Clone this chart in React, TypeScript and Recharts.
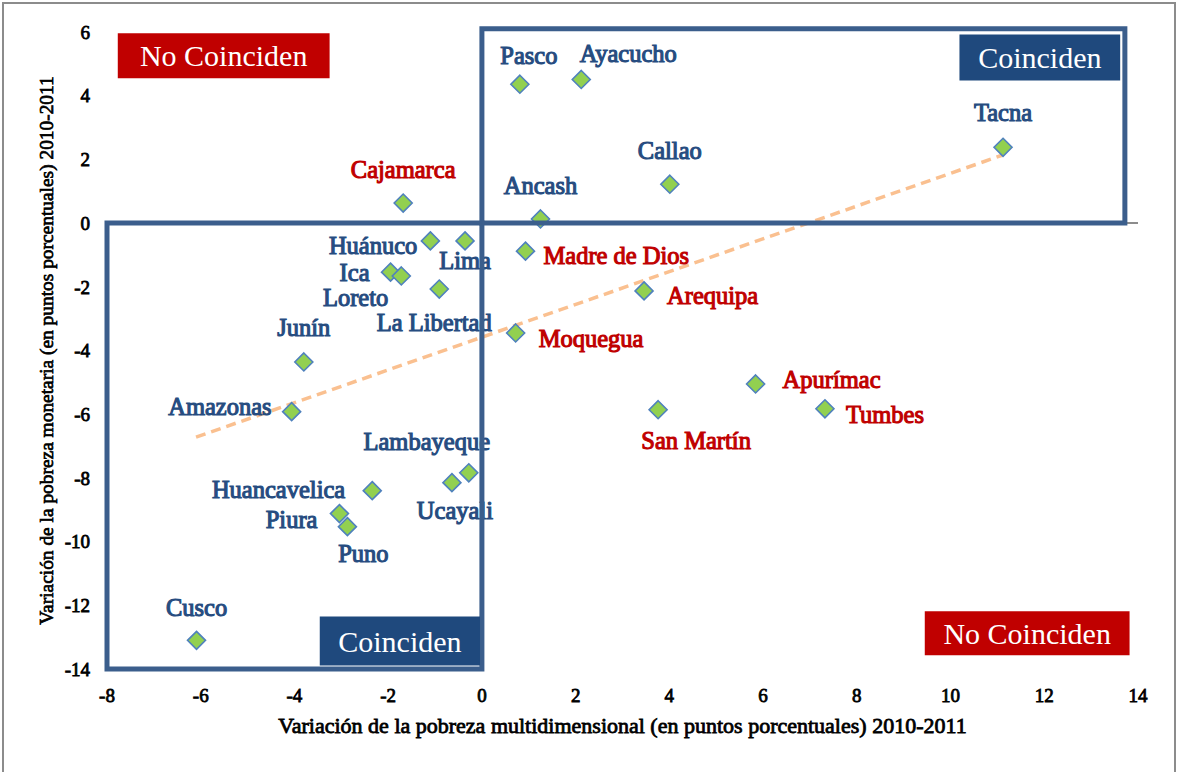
import React from 'react';
import { ScatterChart, Scatter, XAxis, YAxis, ReferenceArea, ReferenceLine } from 'recharts';

const regions = ['Pasco', 'Ayacucho', 'Tacna', 'Callao', 'Cajamarca', 'Ancash', 'Huánuco', 'Lima', 'Madre de Dios', 'Ica', 'Loreto', 'La Libertad', 'Arequipa', 'Moquegua', 'Junín', 'Apurímac', 'Tumbes', 'San Martín', 'Amazonas', 'Lambayeque', 'Ucayali', 'Huancavelica', 'Piura', 'Puno', 'Cusco'];
const multidimensional = [0.81, 2.12, 11.12, 4.01, -1.68, 1.25, -1.1, -0.36, 0.93, -1.95, -1.72, -0.91, 3.46, 0.72, -3.8, 5.84, 7.32, 3.76, -4.06, -0.28, -0.64, -2.34, -3.04, -2.87, -6.09];
const monetary = [4.36, 4.51, 2.38, 1.22, 0.63, 0.13, -0.56, -0.56, -0.88, -1.54, -1.66, -2.07, -2.13, -3.45, -4.36, -5.05, -5.83, -5.86, -5.92, -7.84, -8.15, -8.4, -9.12, -9.53, -13.1];
const notMatching = ['Cajamarca', 'Madre de Dios', 'Arequipa', 'Moquegua', 'Apurímac', 'Tumbes', 'San Martín'];
const trendX = [-6.1, 11.1];
const trendY = [-6.72, 2.13];
const xTicks = [-8, -6, -4, -2, 0, 2, 4, 6, 8, 10, 12, 14];
const yTicks = [-14, -12, -10, -8, -6, -4, -2, 0, 2, 4, 6];

const xTitle = 'Variación de la pobreza multidimensional (en puntos porcentuales) 2010-2011';
const yTitle = 'Variación de la pobreza monetaria (en puntos porcentuales) 2010-2011';

const FONT = '"Liberation Serif", serif';
const RED = '#C00000';
const BLUE = '#264C80';
const NAVY = '#1F497D';
const FRAME = '#3B5E8C';

type Place = { anchor: 'start' | 'middle' | 'end'; dx: number; dy: number };
const labelPlacement: Record<string, Place> = {
  'Pasco': { anchor: 'middle', dx: 9, dy: -29 },
  'Ayacucho': { anchor: 'middle', dx: 47, dy: -26 },
  'Tacna': { anchor: 'middle', dx: 0, dy: -35 },
  'Callao': { anchor: 'middle', dx: 0, dy: -34 },
  'Cajamarca': { anchor: 'middle', dx: 0, dy: -34 },
  'Ancash': { anchor: 'middle', dx: 0, dy: -33 },
  'Huánuco': { anchor: 'end', dx: -13, dy: 5 },
  'Lima': { anchor: 'middle', dx: 0, dy: 20 },
  'Madre de Dios': { anchor: 'start', dx: 18, dy: 4 },
  'Ica': { anchor: 'end', dx: -21, dy: 0 },
  'Loreto': { anchor: 'end', dx: -13, dy: 22 },
  'La Libertad': { anchor: 'middle', dx: -5, dy: 33 },
  'Arequipa': { anchor: 'start', dx: 23, dy: 5 },
  'Moquegua': { anchor: 'start', dx: 23, dy: 6 },
  'Junín': { anchor: 'middle', dx: 0, dy: -34 },
  'Apurímac': { anchor: 'start', dx: 27, dy: -4 },
  'Tumbes': { anchor: 'start', dx: 21, dy: 6 },
  'San Martín': { anchor: 'middle', dx: 38, dy: 31 },
  'Amazonas': { anchor: 'end', dx: -20, dy: -5 },
  'Lambayeque': { anchor: 'middle', dx: -42, dy: -31 },
  'Ucayali': { anchor: 'middle', dx: 3, dy: 28 },
  'Huancavelica': { anchor: 'end', dx: -27, dy: -1 },
  'Piura': { anchor: 'end', dx: -22, dy: 6 },
  'Puno': { anchor: 'middle', dx: 16, dy: 27 },
  'Cusco': { anchor: 'middle', dx: 0, dy: -33 },
};

const points = regions.map((name, i) => ({ name, x: multidimensional[i], y: monetary[i] }));
const trendData = trendX.map((x, i) => ({ x, y: trendY[i] }));

const renderPoint = (props: any) => {
  const { cx, cy, payload } = props;
  const p = labelPlacement[payload.name] || { anchor: 'middle', dx: 0, dy: -30 };
  const color = notMatching.includes(payload.name) ? RED : BLUE;
  const r = 9;
  return (
    <g>
      <path
        d={`M${cx},${cy - r}L${cx + r},${cy}L${cx},${cy + r}L${cx - r},${cy}Z`}
        fill="#92D050"
        stroke="#4F81BD"
        strokeWidth={1.6}
      />
      <text
        x={cx + p.dx}
        y={cy + p.dy}
        textAnchor={p.anchor}
        dominantBaseline="central"
        fontSize={24.5}
        fontFamily={FONT}
        fill={color}
        stroke={color}
        strokeWidth={1.1}
      >
        {payload.name}
      </text>
    </g>
  );
};

const tickStyle = { fontSize: 19, fill: '#000', stroke: '#000', strokeWidth: 0.8, fontFamily: FONT };
const boxLabel = (value: string) => ({ value, position: 'center' as const, fill: '#fff', fontSize: 30, fontFamily: FONT });

export default function App() {
  return (
    <div style={{ position: 'absolute', left: 0, top: 0, width: 1180, height: 772, background: '#fff', fontFamily: FONT }}>
      <div style={{ position: 'absolute', left: 2, top: 2, width: 1174, height: 772, borderTop: '2px solid #8c8c8c', borderLeft: '2px solid #8c8c8c', borderRight: '2px solid #8c8c8c', boxSizing: 'border-box' }} />
      <div style={{ position: 'absolute', left: 0, top: 0 }}>
        <ScatterChart width={1180} height={772} margin={{ top: 32, right: 42, bottom: 33, left: 0 }} style={{ fontFamily: FONT }}>
          <XAxis
            type="number"
            dataKey="x"
            domain={[-8, 14]}
            ticks={xTicks}
            axisLine={false}
            tickLine={false}
            tickSize={0}
            tickMargin={20}
            height={70}
            tick={tickStyle}
            interval={0}
            label={{ value: xTitle, position: 'insideBottom', offset: 6, fontSize: 22, fill: '#000', stroke: '#000', strokeWidth: 0.8, fontFamily: FONT }}
          />
          <YAxis
            type="number"
            dataKey="y"
            domain={[-14, 6]}
            ticks={yTicks}
            axisLine={false}
            tickLine={false}
            tickSize={0}
            tickMargin={17}
            width={107}
            tick={tickStyle}
            interval={0}
            label={{ value: yTitle, angle: -90, position: 'insideLeft', offset: 46, fontSize: 19.4, fill: '#000', stroke: '#000', strokeWidth: 0.7, fontFamily: FONT, style: { textAnchor: 'middle' } }}
          />
          <ReferenceLine y={0} stroke="#8c8c8c" strokeWidth={2} />
          <Scatter
            data={trendData}
            line={{ stroke: '#FAC090', strokeWidth: 3.5, strokeDasharray: '10 6' }}
            shape={() => <g />}
            isAnimationActive={false}
          />
          <Scatter data={points} shape={renderPoint} isAnimationActive={false} />
          <ReferenceArea x1={-8} x2={0} y1={-14} y2={0} fill="none" fillOpacity={0} stroke={FRAME} strokeWidth={5} ifOverflow="visible" zIndex={700} />
          <ReferenceArea x1={0} x2={13.72} y1={0} y2={6.1} fill="none" fillOpacity={0} stroke={FRAME} strokeWidth={5} ifOverflow="visible" zIndex={700} />
          <ReferenceArea x1={-7.77} x2={-3.25} y1={4.55} y2={5.96} fill={RED} fillOpacity={1} stroke="none" ifOverflow="visible" zIndex={710}
            label={boxLabel('No Coinciden')} />
          <ReferenceArea x1={10.19} x2={13.62} y1={4.48} y2={5.92} fill={NAVY} fillOpacity={1} stroke="none" ifOverflow="visible" zIndex={710}
            label={boxLabel('Coinciden')} />
          <ReferenceArea x1={-3.46} x2={-0.04} y1={-13.89} y2={-12.35} fill={NAVY} fillOpacity={1} stroke="none" ifOverflow="visible" zIndex={710}
            label={boxLabel('Coinciden')} />
          <ReferenceArea x1={9.45} x2={13.82} y1={-13.57} y2={-12.19} fill={RED} fillOpacity={1} stroke="none" ifOverflow="visible" zIndex={710}
            label={boxLabel('No Coinciden')} />
        </ScatterChart>
      </div>
    </div>
  );
}
